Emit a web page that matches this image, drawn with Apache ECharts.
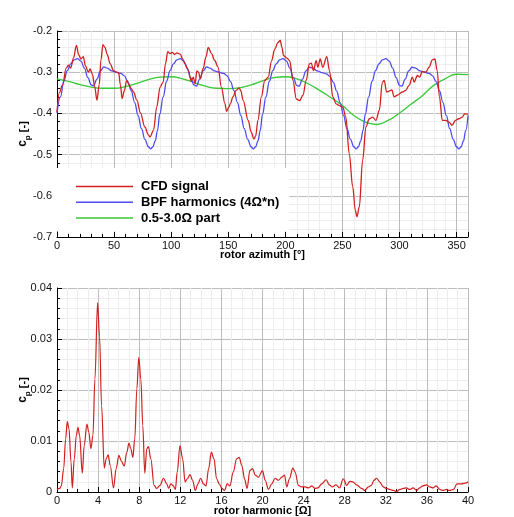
<!DOCTYPE html>
<html><head><meta charset="utf-8">
<script src="https://cdn.jsdelivr.net/npm/echarts@6/dist/echarts.min.js"></script>
<style>html,body{margin:0;padding:0;background:#fff}#c{width:514px;height:517px}</style>
</head><body><div id="c"></div>
<script>
const seriesNames = ['CFD signal', 'BPF harmonics (4\u03A9*n)', '0.5-3.0\u03A9 part'];

// [rotor azimuth (deg), cp]
const cfdSignal = [[0,-0.397],[2,-0.350],[5,-0.330],[8,-0.290],[10,-0.283],[12,-0.290],[14.5,-0.265],[17,-0.235],[19,-0.258],[21,-0.268],[23,-0.262],[25,-0.285],[27.5,-0.300],[29,-0.292],[31,-0.305],[33,-0.335],[35,-0.368],[37,-0.330],[38.5,-0.270],[40.2,-0.233],[42,-0.240],[44,-0.257],[46.5,-0.279],[49.5,-0.296],[52,-0.300],[54,-0.302],[55.5,-0.330],[57,-0.364],[59,-0.345],[61,-0.320],[63,-0.330],[65,-0.340],[67,-0.348],[70,-0.368],[73,-0.398],[77,-0.433],[80,-0.452],[81.5,-0.457],[84.5,-0.441],[87.4,-0.384],[90.3,-0.336],[93,-0.324],[95,-0.280],[97,-0.250],[99,-0.255],[101,-0.252],[103,-0.257],[105,-0.253],[108,-0.256],[110,-0.268],[112,-0.279],[115,-0.295],[117.5,-0.322],[119.4,-0.312],[121,-0.328],[122.5,-0.297],[124,-0.300],[125.5,-0.316],[128,-0.291],[130.5,-0.263],[132.5,-0.240],[135.4,-0.255],[138,-0.271],[141,-0.287],[144,-0.336],[147,-0.375],[148.5,-0.395],[150.5,-0.385],[152,-0.376],[154,-0.360],[157,-0.344],[159.5,-0.338],[161,-0.345],[163,-0.368],[167.5,-0.417],[170,-0.445],[172.5,-0.462],[174,-0.455],[176,-0.417],[179,-0.360],[182,-0.320],[185,-0.312],[188,-0.272],[190.7,-0.244],[193.5,-0.228],[195.6,-0.223],[197,-0.240],[198.5,-0.260],[201,-0.265],[203.8,-0.272],[206.7,-0.320],[209.6,-0.365],[212.5,-0.369],[215.4,-0.356],[218.3,-0.320],[221,-0.280],[222.7,-0.278],[224.7,-0.296],[227,-0.272],[228.5,-0.288],[230.5,-0.268],[232.8,-0.288],[236.3,-0.262],[238.7,-0.296],[241.6,-0.360],[244.5,-0.377],[247.4,-0.381],[250.3,-0.385],[253,-0.409],[256,-0.498],[259,-0.578],[261.3,-0.635],[262.7,-0.651],[264.8,-0.627],[267.7,-0.514],[270.6,-0.433],[273.5,-0.413],[276.5,-0.409],[279.4,-0.417],[282.3,-0.393],[285,-0.324],[286.6,-0.320],[288.7,-0.348],[291,-0.346],[293.3,-0.343],[295.3,-0.360],[298,-0.356],[302.6,-0.348],[305.5,-0.344],[308.4,-0.332],[311.3,-0.312],[312.8,-0.324],[315.7,-0.308],[317.7,-0.312],[320,-0.298],[323,-0.300],[325.9,-0.288],[328.8,-0.270],[331,-0.268],[333,-0.296],[335,-0.360],[337.5,-0.417],[340.4,-0.417],[343.3,-0.421],[346,-0.429],[349,-0.417],[352,-0.413],[355,-0.409],[357,-0.401],[360,-0.402]];

const bpfHarmonics = [[0,-0.400],[3,-0.360],[6,-0.322],[9,-0.296],[12,-0.280],[15,-0.270],[18,-0.267],[21,-0.273],[24,-0.290],[27,-0.313],[30,-0.331],[32,-0.333],[35,-0.317],[38,-0.297],[41,-0.287],[44,-0.290],[48,-0.297],[52,-0.300],[56,-0.303],[59,-0.309],[62,-0.323],[65,-0.345],[68,-0.373],[71,-0.405],[74,-0.437],[77,-0.463],[80,-0.481],[82,-0.486],[84,-0.481],[86,-0.467],[88,-0.442],
[90,-0.402],[93,-0.360],[96,-0.322],[99,-0.296],[102,-0.280],[105,-0.270],[108,-0.267],[111,-0.273],[114,-0.290],[117,-0.313],[120,-0.331],[122,-0.334],[125,-0.317],[128,-0.297],[131,-0.287],[134,-0.290],[138,-0.297],[142,-0.300],[146,-0.303],[149,-0.309],[152,-0.323],[155,-0.345],[158,-0.373],[161,-0.405],[164,-0.437],[167,-0.463],[170,-0.481],[172,-0.486],[174,-0.481],[176,-0.467],[178,-0.442],
[180,-0.402],[183,-0.360],[186,-0.322],[189,-0.296],[192,-0.280],[195,-0.270],[198,-0.267],[201,-0.273],[204,-0.290],[207,-0.313],[210,-0.332],[212,-0.334],[215,-0.317],[218,-0.297],[221,-0.288],[224,-0.290],[228,-0.297],[232,-0.301],[236,-0.304],[239,-0.310],[242,-0.324],[245,-0.346],[248,-0.374],[251,-0.405],[254,-0.437],[257,-0.463],[260,-0.481],[262,-0.486],[264,-0.481],[266,-0.467],[268,-0.442],
[270,-0.402],[273,-0.360],[276,-0.322],[279,-0.296],[282,-0.280],[285,-0.270],[288,-0.267],[291,-0.273],[294,-0.290],[297,-0.313],[300,-0.332],[302,-0.334],[305,-0.317],[308,-0.297],[311,-0.288],[314,-0.290],[318,-0.297],[322,-0.300],[326,-0.303],[329,-0.309],[332,-0.323],[335,-0.345],[338,-0.373],[341,-0.405],[344,-0.437],[347,-0.463],[350,-0.481],[352,-0.486],[354,-0.481],[356,-0.467],[358,-0.442],[360,-0.405]];

const lowPart = [[0,-0.316],[10,-0.322],[20,-0.330],[30,-0.336],[40,-0.339],[50,-0.339],[60,-0.335],[70,-0.327],[80,-0.318],[90,-0.312],[100,-0.311],[110,-0.316],[120,-0.325],[130,-0.334],[140,-0.339],[150,-0.340],[160,-0.338],[170,-0.331],[180,-0.321],[190,-0.313],[200,-0.311],[210,-0.316],[220,-0.328],[230,-0.344],[240,-0.362],[250,-0.381],[260,-0.405],[270,-0.421],[280,-0.427],[290,-0.417],[300,-0.399],[310,-0.378],[320,-0.357],[330,-0.332],[340,-0.316],[350,-0.305],[360,-0.306]];

// [rotor harmonic (Omega), cp amplitude]
const spectrum = [[0,0.0005],[0.26,0.0007],[0.42,0.0012],[0.65,0.0046],[0.84,0.0104],[1.0,0.0138],[1.17,0.0124],[1.36,0.0059],[1.49,0.0008],[1.68,0.0065],[1.88,0.0111],[2.04,0.0127],[2.2,0.0111],[2.46,0.0037],[2.65,0.0091],[2.91,0.0133],[3.1,0.0117],[3.3,0.0085],[3.5,0.0111],[3.69,0.0221],[3.95,0.0371],[4.14,0.0306],[4.34,0.0169],[4.6,0.0047],[4.79,0.0065],[4.98,0.0073],[5.18,0.0052],[5.5,0.0008],[5.76,0.0046],[6.02,0.0072],[6.28,0.0060],[6.54,0.0051],[6.8,0.0078],[7.0,0.0096],[7.18,0.0085],[7.38,0.0068],[7.57,0.0104],[7.77,0.0202],[7.96,0.0264],[8.16,0.0221],[8.35,0.0130],[8.54,0.0037],[8.74,0.0085],[8.9,0.0089],[9.13,0.0065],[9.45,0.0013],[9.7,0.0007],[10.03,0.0013],[10.36,0.0027],[10.68,0.0016],[10.87,0.0007],[11.07,0.0016],[11.33,0.0012],[11.52,0.0005],[11.7,0.0039],[11.97,0.0091],[12.23,0.0065],[12.46,0.0020],[12.69,0.0026],[12.94,0.0034],[13.2,0.0023],[13.46,0.0003],[13.72,0.0016],[13.98,0.0027],[14.24,0.0016],[14.5,0.0012],[14.76,0.0046],[15.02,0.0078],[15.28,0.0065],[15.53,0.0026],[15.79,0.0016],[16.05,0.0007],[16.3,0.0003],[16.57,0.0016],[16.83,0.0012],[17.15,0.0039],[17.48,0.0065],[17.73,0.0068],[17.99,0.0052],[18.25,0.0026],[18.5,0.0007],[18.77,0.0042],[19.03,0.0046],[19.3,0.0033],[19.6,0.0029],[20,0.0042],[20.26,0.0023],[20.58,0.0005],[20.9,0.0016],[21.23,0.0027],[21.55,0.0023],[21.88,0.0029],[22.14,0.0033],[22.36,0.0010],[22.62,0.0026],[22.95,0.0047],[23.17,0.0039],[23.5,0.0013],[23.82,0.0010],[24.15,0.0010],[24.47,0.0008],[24.8,0.0012],[25.1,0.0007],[25.4,0.0008],[25.76,0.0016],[26.2,0.0024],[26.5,0.0014],[26.8,0.0010],[27.15,0.0014],[27.5,0.0008],[27.86,0.0026],[28.2,0.0013],[28.5,0.0021],[28.8,0.0020],[29.16,0.0014],[29.64,0.0007],[29.97,0.0003],[30.3,0.0010],[30.6,0.0013],[30.84,0.0023],[31.1,0.0027],[31.4,0.0020],[31.75,0.0010],[32.07,0.0007],[32.4,0.0005],[32.72,0.0003],[33.04,0.0001],[33.37,0.0005],[33.7,0.0007],[34.0,0.0008],[34.33,0.0005],[34.66,0.0008],[35.0,0.0003],[35.3,0.0008],[35.6,0.0012],[35.95,0.0014],[36.28,0.0010],[36.6,0.0008],[36.9,0.0012],[37.25,0.0005],[37.57,0.0003],[37.9,0.0005],[38.2,0.0003],[38.6,0.0005],[38.93,0.0016],[39.35,0.0016],[39.84,0.0018],[40,0.0020]];

const FONT = '"Liberation Sans", Arial, Helvetica, sans-serif';
const colors = ['#d21f1f', '#4c4cf2', '#38c838'];

function makeAxis(opts) {
  return Object.assign({
    type: 'value',
    axisLine: { show: true, onZero: false, lineStyle: { color: '#000', width: 1 } },
    axisTick: { show: true, inside: true, length: 5, lineStyle: { color: '#000' } },
    splitLine: { show: true, lineStyle: { color: '#bdbdbd', width: 1 } },
    minorSplitLine: { show: true, lineStyle: { color: '#ededed', width: 1 } },
    nameLocation: 'middle',
    nameMoveOverlap: false,
    nameTextStyle: { color: '#000', fontSize: 11, fontWeight: 'bold', fontFamily: FONT }
  }, opts);
}

const yName = '{c|c}{p|p}{r| [-]}';
const yRich = {
  c: { fontSize: 12, fontWeight: 'bold', fontFamily: FONT, color: '#000', lineHeight: 14, verticalAlign: 'bottom' },
  p: { fontSize: 8, fontWeight: 'bold', fontFamily: FONT, color: '#000', lineHeight: 8, verticalAlign: 'bottom', padding: [0, 0, -3, 0] },
  r: { fontSize: 11, fontWeight: 'bold', fontFamily: FONT, color: '#000', lineHeight: 14, verticalAlign: 'bottom' }
};
const minorTickStyle = n => ({ show: true, splitNumber: n, length: 3, lineStyle: { color: '#000' } });
const labelStyle = extra => Object.assign({ color: '#111', fontSize: 11, fontFamily: FONT }, extra);

const chart = echarts.init(document.getElementById('c'), null, { renderer: 'canvas' });
chart.setOption({
  animation: false,
  backgroundColor: '#fff',
  grid: [
    { left: 57, top: 31, width: 411, height: 206 },
    { left: 57, top: 288, width: 411, height: 205 }
  ],
  legend: {
    show: true,
    data: seriesNames,
    orient: 'vertical',
    left: 57, top: 168,
    padding: [11, 10, 6, 19],
    backgroundColor: '#ffffff',
    icon: 'rect',
    itemWidth: 57, itemHeight: 1.5, itemGap: 0.8,
    textStyle: { fontSize: 13, lineHeight: 15, fontWeight: 'bold', fontFamily: FONT, color: '#000', padding: [0, 0, 0, 3] },
    z: 10
  },
  xAxis: [
    makeAxis({ gridIndex: 0, min: 0, max: 360, interval: 50, minorTick: minorTickStyle(5),
      axisLabel: labelStyle({ margin: 3, showMaxLabel: false }),
      name: 'rotor azimuth [\u00B0]', nameGap: 12 }),
    makeAxis({ gridIndex: 1, min: 0, max: 40, interval: 4, minorTick: minorTickStyle(4),
      axisLabel: labelStyle({ margin: 3 }),
      name: 'rotor harmonic [\u03A9]', nameGap: 13 })
  ],
  yAxis: [
    makeAxis({ gridIndex: 0, min: -0.7, max: -0.2, interval: 0.1, minorTick: minorTickStyle(5),
      axisLabel: labelStyle({ margin: 5, formatter: v => v.toFixed(1) }),
      name: yName, nameRotate: 90, nameGap: 28, nameTextStyle: { rich: yRich } }),
    makeAxis({ gridIndex: 1, min: 0, max: 0.04, interval: 0.01, minorTick: minorTickStyle(5),
      axisLabel: labelStyle({ margin: 5, formatter: v => v === 0 ? '0' : v.toFixed(2) }),
      name: yName, nameRotate: 90, nameGap: 28, nameTextStyle: { rich: yRich } })
  ],
  series: [
    { name: seriesNames[0], type: 'line', xAxisIndex: 0, yAxisIndex: 0, data: cfdSignal, symbol: 'none', smooth: 0.35, smoothMonotone: 'x', lineStyle: { color: colors[0], width: 1.3 }, itemStyle: { color: colors[0] }, z: 4 },
    { name: seriesNames[1], type: 'line', xAxisIndex: 0, yAxisIndex: 0, data: bpfHarmonics, symbol: 'none', smooth: 0.4, smoothMonotone: 'x', lineStyle: { color: colors[1], width: 1.3 }, itemStyle: { color: colors[1] }, z: 3 },
    { name: seriesNames[2], type: 'line', xAxisIndex: 0, yAxisIndex: 0, data: lowPart, symbol: 'none', smooth: 0.5, lineStyle: { color: colors[2], width: 1.3 }, itemStyle: { color: colors[2] }, z: 2 },
    { name: 'spectrum', type: 'line', xAxisIndex: 1, yAxisIndex: 1, data: spectrum, symbol: 'none', smooth: 0.35, smoothMonotone: 'x', lineStyle: { color: colors[0], width: 1.2 }, itemStyle: { color: colors[0] } }
  ]
});
</script>
</body></html>
